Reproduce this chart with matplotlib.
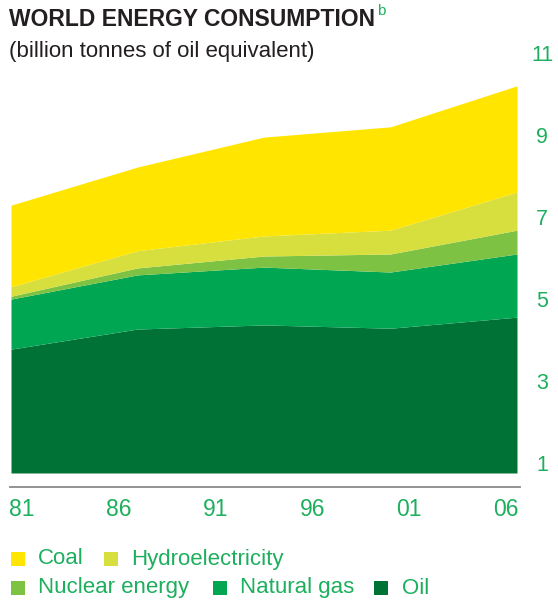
import numpy as np
import matplotlib
matplotlib.use('Agg')
from matplotlib import pyplot as plt
from matplotlib.patches import Rectangle
from matplotlib.lines import Line2D

plt.rcParams['font.family'] = ['Liberation Sans', 'DejaVu Sans']

# 数据：五个采样点，各能源层的厚度（油为到底边的上沿）
points = np.arange(5)
oil = [3.78, 4.27, 4.37, 4.29, 4.56]
natural_gas = [1.22, 1.32, 1.41, 1.37, 1.54]
nuclear = [0.07, 0.17, 0.27, 0.44, 0.58]
hydro = [0.23, 0.42, 0.49, 0.58, 0.93]
coal = [1.99, 2.04, 2.41, 2.52, 2.59]

year_labels = ['81', '86', '91', '96', '01', '06']
y_ticks = [1, 3, 5, 7, 9, 11]

names = ['Oil', 'Natural gas', 'Nuclear energy', 'Hydroelectricity', 'Coal']
colors = ['#007236', '#00A651', '#7DC242', '#D7DF3F', '#FFE500']
label_green = '#1DAF5E'
dark = '#231F20'

W, H = 558, 601
fig = plt.figure(figsize=(W / 100, H / 100), dpi=100)

y_bottom, y_top = 0.76, 11.3
ax = fig.add_axes([11 / W, 1 - 473 / H, (517 - 11) / W, (473 - 40.7) / H])

# 逐层堆叠
layers = [np.array(oil) - y_bottom, natural_gas, nuclear, hydro, coal]
base = np.full(len(points), y_bottom)
for vals, c in zip(layers, colors):
    top = base + np.array(vals)
    ax.fill_between(points, base, top, color=c, linewidth=0)
    base = top

ax.set_xlim(points[0], points[-1])
ax.set_ylim(y_bottom, y_top)
for s in ax.spines.values():
    s.set_visible(False)

ax.set_xticks(np.linspace(points[0] + 0.087, points[-1] - 0.087, len(year_labels)))
ax.set_xticklabels(year_labels)
ax.tick_params(axis='x', length=0, pad=18, labelsize=16.5, labelcolor=label_green)

ax.yaxis.tick_right()
ax.set_yticks(y_ticks)
ax.set_yticklabels([str(t) for t in y_ticks])
ax.tick_params(axis='y', length=0, pad=18, labelsize=15.5, labelcolor=label_green)
for t in ax.get_yticklabels():
    t.set_horizontalalignment('center')

# 底部灰线
fig.add_artist(Line2D([10 / W, 520 / W], [1 - 487 / H, 1 - 487 / H],
                      color='#8a8a8a', linewidth=1.3))

# 标题
title = fig.text(9 / W, 1 - 20 / H, 'WORLD ENERGY CONSUMPTION', fontsize=16.5,
                 fontweight='bold', color=dark, va='center', ha='left')
fig.canvas.draw()
bb = title.get_window_extent()
fig.text(bb.x1 / W + 2 / W, 1 - 11 / H, 'b', fontsize=11, color=label_green,
         va='center', ha='left')
fig.text(9 / W, 1 - 52 / H, '(billion tonnes of oil equivalent)', fontsize=16,
         color=dark, va='center', ha='left')

# 图例（手动排两行）
legend_items = [
    ('Coal', colors[4], 11, 559, 38),
    ('Hydroelectricity', colors[3], 104, 559, 131),
    ('Nuclear energy', colors[2], 11, 588, 38),
    ('Natural gas', colors[1], 213, 588, 240),
    ('Oil', colors[0], 374, 588, 402),
]
for name, c, sx, sy, tx in legend_items:
    fig.add_artist(Rectangle((sx / W, 1 - (sy + 7) / H), 14 / W, 14 / H,
                             facecolor=c, edgecolor='none',
                             transform=fig.transFigure))
    fig.text(tx / W, 1 - sy / H, name, fontsize=16, color=label_green,
             va='center', ha='left')

fig.savefig('out.png', dpi=100)
